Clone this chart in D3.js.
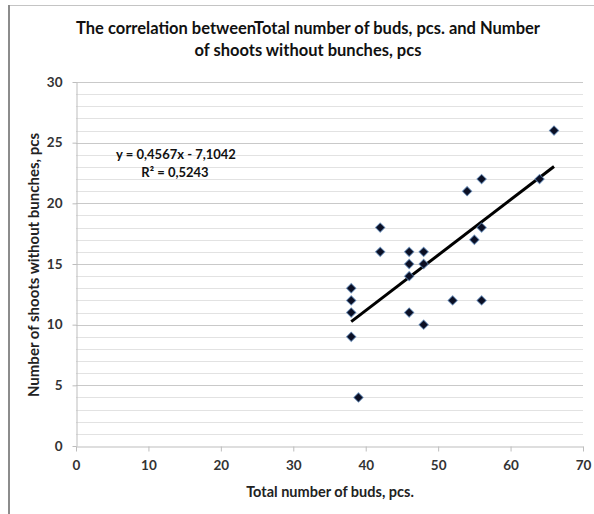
<!DOCTYPE html>
<html>
<head>
<meta charset="utf-8">
<script src="https://cdn.jsdelivr.net/npm/d3@7"></script>
<style>
  html, body { margin: 0; padding: 0; background: #fff; }
  svg { display: block; font-family: Lato, "Open Sans", sans-serif; }
</style>
</head>
<body>
<svg id="chart" width="594" height="514"></svg>
<script>
// ---- data ----
const budsTotal = [38, 38, 38, 38, 39, 42, 42, 46, 46, 46, 46, 48, 48, 48, 52, 54, 55, 56, 56, 56, 64, 66];
const shootsWithoutBunches = [13, 12, 11, 9, 4, 18, 16, 16, 15, 14, 11, 16, 15, 10, 12, 21, 17, 22, 18, 12, 22, 26];
const xTicks = [0, 10, 20, 30, 40, 50, 60, 70];
const yTicks = [0, 5, 10, 15, 20, 25, 30];
const trendSlope = 0.4567;
const trendIntercept = -7.1042;
const trendLabel = "y = 0,4567x - 7,1042";
const r2Label = "R² = 0,5243";
const titleLines = ["The correlation betweenTotal number of buds, pcs. and Number", "of shoots without bunches, pcs"];
const xTitle = "Total number of buds, pcs.";
const yTitle = "Number of shoots without bunches, pcs";

const svg = d3.select("#chart");
const W = 594, H = 514;
svg.append("rect").attr("width", W).attr("height", H).attr("fill", "#fff");

// frame
svg.append("line").attr("x1", 9).attr("x2", W).attr("y1", 5.5).attr("y2", 5.5).attr("stroke", "#c4c4c4").attr("stroke-width", 1);
svg.append("line").attr("x1", 9).attr("x2", 9).attr("y1", 5).attr("y2", H).attr("stroke", "#8c8c8c").attr("stroke-width", 2);

const x = d3.scaleLinear().domain([0, 70]).range([76, 583]);
const y = d3.scaleLinear().domain([0, 30]).range([446, 82]);

// gridlines
const gridVals = d3.range(1, 31);
svg.append("g").selectAll("line").data(gridVals).join("line")
  .attr("x1", x(0)).attr("x2", x(70))
  .attr("y1", d => Math.round(y(d)) + 0.5).attr("y2", d => Math.round(y(d)) + 0.5)
  .attr("stroke", d => d % 5 === 0 ? "#c9c9c9" : "#e2e2e2")
  .attr("stroke-width", 1);

// axes
const gx = svg.append("g").attr("transform", `translate(0,${Math.round(y(0)) + 0.5})`)
  .call(d3.axisBottom(x).tickValues(xTicks).tickSize(5).tickPadding(9).tickSizeOuter(0));
const gy = svg.append("g").attr("transform", `translate(${Math.round(x(0)) + 0.5},0)`)
  .call(d3.axisLeft(y).tickValues(yTicks).tickSize(4).tickPadding(10).tickSizeOuter(0));
[gx, gy].forEach(g => {
  g.select(".domain").attr("stroke", "#bdbdbd");
  g.selectAll(".tick line").attr("stroke", "#bdbdbd");
  g.selectAll(".tick text").attr("fill", "#333").attr("font-size", 13.5).attr("font-weight", "bold")
    .attr("font-family", "Lato, sans-serif");
});

// trend line
const trendX = d3.extent(budsTotal);
svg.append("line")
  .attr("x1", x(trendX[0])).attr("y1", y(trendSlope * trendX[0] + trendIntercept))
  .attr("x2", x(trendX[1])).attr("y2", y(trendSlope * trendX[1] + trendIntercept))
  .attr("stroke", "#000").attr("stroke-width", 3).attr("stroke-linecap", "butt");

// markers
const diamond = d3.symbol().type(d3.symbolSquare).size(44);
svg.append("g").selectAll("path").data(budsTotal.map((b, i) => [b, shootsWithoutBunches[i]])).join("path")
  .attr("d", diamond)
  .attr("transform", d => `translate(${x(d[0])},${y(d[1])}) rotate(45)`)
  .attr("fill", "#0b0f24")
  .attr("stroke", "#5b86b8").attr("stroke-width", 1).attr("stroke-opacity", 0.7);

// title
svg.append("g").selectAll("text").data(titleLines).join("text")
  .attr("x", 308).attr("y", (d, i) => 34 + i * 22)
  .attr("text-anchor", "middle").attr("font-size", 16.5).attr("font-weight", "bold").attr("fill", "#111")
  .text(d => d);

// axis titles
svg.append("text").attr("x", 330).attr("y", 497).attr("text-anchor", "middle")
  .attr("font-size", 14.5).attr("font-weight", "bold").attr("fill", "#222").text(xTitle);
svg.append("text").attr("transform", "translate(39,265) rotate(-90)").attr("text-anchor", "middle")
  .attr("font-size", 15).attr("font-weight", "bold").attr("fill", "#222").text(yTitle);

// equation
svg.append("text").attr("x", 176).attr("y", 159).attr("text-anchor", "middle")
  .attr("font-size", 13).attr("font-weight", "bold").attr("fill", "#111").text(trendLabel);
svg.append("text").attr("x", 175).attr("y", 177).attr("text-anchor", "middle")
  .attr("font-size", 13).attr("font-weight", "bold").attr("fill", "#111").text(r2Label);
</script>
</body>
</html>
